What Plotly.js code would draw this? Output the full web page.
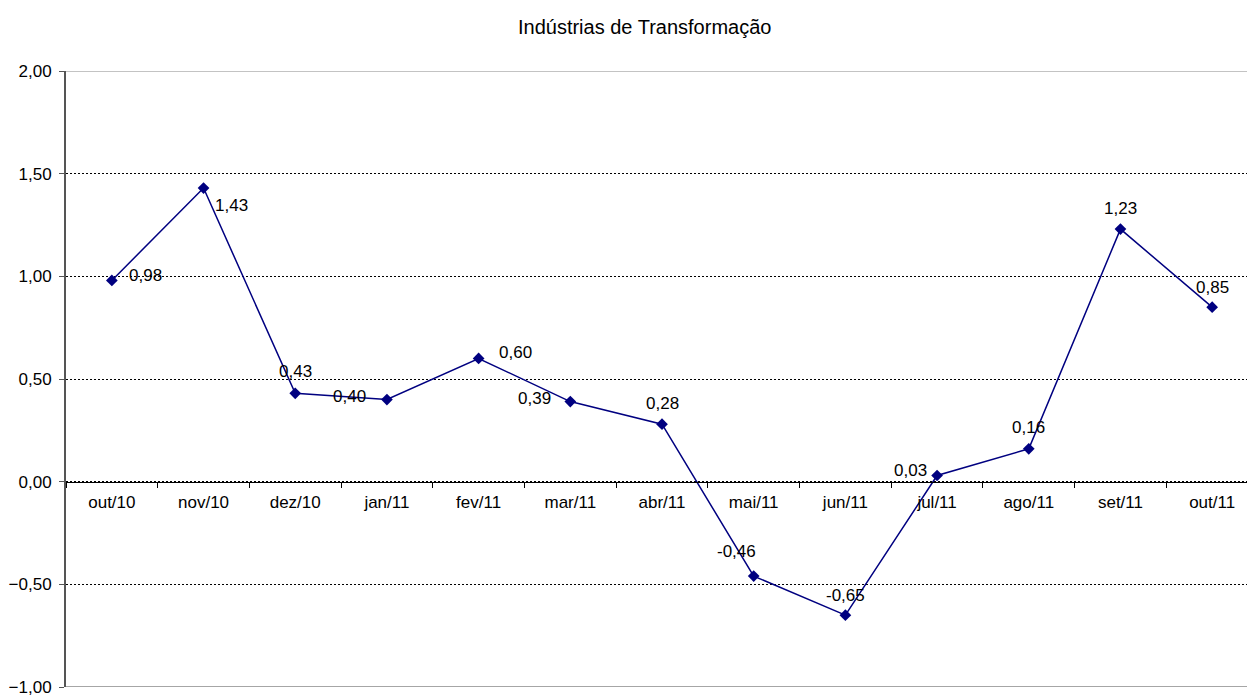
<!DOCTYPE html>
<html>
<head>
<meta charset="utf-8">
<script src="https://cdn.plot.ly/plotly-3.0.1.min.js"></script>
<style>html,body{margin:0;padding:0;background:#fff;}#chart{width:1247px;height:699px;}</style>
</head>
<body>
<div id="chart"></div>
<script>
const categories = ["out/10","nov/10","dez/10","jan/11","fev/11","mar/11","abr/11","mai/11","jun/11","jul/11","ago/11","set/11","out/11"];
const values = [0.98, 1.43, 0.43, 0.40, 0.60, 0.39, 0.28, -0.46, -0.65, 0.03, 0.16, 1.23, 0.85];
const yTicks = [-1, -0.5, 0, 0.5, 1, 1.5, 2];
const yRange = [-1, 2];
const titleText = "Indústrias de Transformação";

// label offsets (pixels, style only): horizontal shift of label centre, vertical shift (up positive)
const labelDx = [34, 28, 0, -37, 37, -36, 0, -17, 0, -27, 0, 0, 0];
const labelDy = [5, -17, 22, 3, 6, 3, 21, 25, 20, 5, 21, 21, 20];

const FONT = "Liberation Sans, Arial, sans-serif";
const labels = values.map(v => v.toFixed(2).replace('.', ','));

const trace = {
  x: categories,
  y: values,
  type: 'scatter',
  mode: 'lines+markers',
  line: {color: '#000080', width: 1.5},
  marker: {symbol: 'diamond', size: 9, color: '#000080'},
  cliponaxis: false,
  hoverinfo: 'x+y'
};

const annotations = categories.map((c, i) => ({
  x: c, y: values[i], xref: 'x', yref: 'y',
  text: labels[i], showarrow: false,
  xanchor: 'center', yanchor: 'middle',
  xshift: labelDx[i], yshift: labelDy[i],
  font: {family: FONT, size: 17, color: '#000'}
}));

const zeroFrac = (0 - yRange[0]) / (yRange[1] - yRange[0]);

const layout = {
  width: 1247, height: 699,
  margin: {l: 66, r: 0, t: 71, b: 12},
  paper_bgcolor: '#fff', plot_bgcolor: '#fff',
  separators: ',.',
  showlegend: false,
  font: {family: FONT, size: 17, color: '#000'},
  title: {text: titleText, font: {family: FONT, size: 20, color: '#000'},
          xref: 'container', x: 0.517, xanchor: 'center', yref: 'container', y: 0.961, yanchor: 'middle'},
  xaxis: {
    type: 'category',
    range: [-0.5, 12.38],
    anchor: 'free', position: zeroFrac,
    showline: true, linecolor: '#000', linewidth: 1,
    ticks: 'outside', ticklen: 5, tickcolor: '#000', tickson: 'boundaries',
    ticklabelstandoff: 5,
    showgrid: false, zeroline: false,
    tickfont: {family: FONT, size: 17, color: '#000'},
    fixedrange: true
  },
  yaxis: {
    range: yRange,
    tickvals: yTicks,
    tickformat: '.2f',
    showline: true, linecolor: '#555', linewidth: 2,
    ticks: 'outside', ticklen: 5, tickcolor: '#555',
    ticklabelstandoff: 4,
    ticklabeloverflow: 'allow',
    showgrid: true, gridcolor: '#000', gridwidth: 1, griddash: '2px,2px',
    zeroline: false,
    tickfont: {family: FONT, size: 17, color: '#000'},
    fixedrange: true
  },
  shapes: [
    {type: 'line', xref: 'paper', yref: 'y', x0: 0, x1: 1, y0: yRange[1], y1: yRange[1], line: {color: '#888', width: 1}},
    {type: 'line', xref: 'paper', yref: 'y', x0: 0, x1: 1, y0: yRange[0], y1: yRange[0], line: {color: '#888', width: 1.5}}
  ],
  annotations: annotations
};

Plotly.newPlot('chart', [trace], layout, {displayModeBar: false, staticPlot: true});
</script>
</body>
</html>
